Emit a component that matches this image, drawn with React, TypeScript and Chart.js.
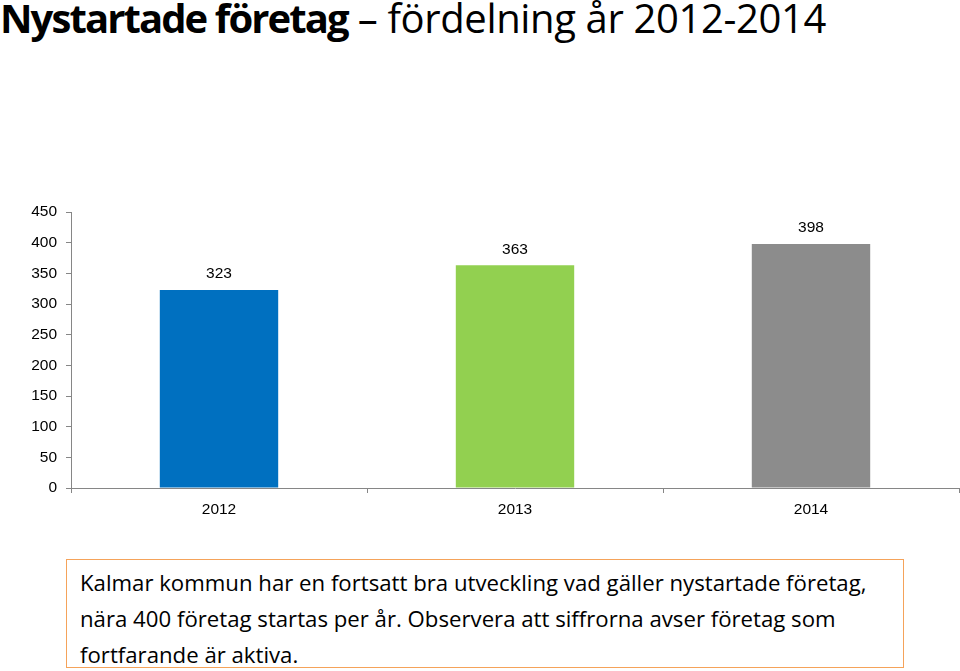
import React, { useEffect, useRef } from "react";
import { Chart, registerables } from "chart.js";

Chart.register(...registerables);

const categories = ["2012", "2013", "2014"];
const values = [323, 363, 398];
const barColors = ["#0070C0", "#92D050", "#8C8C8C"];
const yTicks = [0, 50, 100, 150, 200, 250, 300, 350, 400, 450];

const titleBold = "Nystartade företag";
const titleRest = " – fördelning år 2012-2014";
const noteLines = [
  "Kalmar kommun har en fortsatt bra utveckling vad gäller nystartade företag,",
  "nära 400 företag startas per år. Observera att siffrorna avser företag som",
  "fortfarande är aktiva.",
];

const FONT = "'Liberation Sans', Arial, sans-serif";

const valueLabelPlugin = {
  id: "valueLabels",
  afterDatasetsDraw(chart: any) {
    const ctx = chart.ctx;
    const meta = chart.getDatasetMeta(0);
    ctx.save();
    ctx.font = "15.5px " + FONT;
    ctx.fillStyle = "#000";
    ctx.textAlign = "center";
    ctx.textBaseline = "middle";
    meta.data.forEach((bar: any, i: number) => {
      ctx.fillText(String(values[i]), bar.x, bar.y - 16);
    });
    ctx.restore();
  },
};

export default function App() {
  const ref = useRef<HTMLCanvasElement | null>(null);

  useEffect(() => {
    document.body.style.margin = "0";
    const chart = new Chart(ref.current as HTMLCanvasElement, {
      type: "bar",
      data: {
        labels: categories,
        datasets: [
          {
            data: values,
            backgroundColor: barColors,
            borderWidth: 0,
            barPercentage: 0.8,
            categoryPercentage: 0.5,
          },
        ],
      },
      options: {
        animation: false,
        responsive: false,
        maintainAspectRatio: false,
        layout: { padding: { top: 22, right: 1, left: 0, bottom: 0 } },
        plugins: {
          legend: { display: false },
          tooltip: { enabled: false },
        },
        scales: {
          x: {
            grid: {
              offset: true,
              drawOnChartArea: false,
              drawTicks: true,
              tickLength: 5,
              color: "#868686",
            },
            border: { color: "#868686", width: 1 },
            ticks: {
              color: "#000",
              font: { family: FONT, size: 15.5 },
              padding: 7,
            },
            afterFit(scale: any) {
              scale.height = 42;
            },
          },
          y: {
            min: 0,
            max: 450,
            afterBuildTicks(scale: any) {
              scale.ticks = yTicks.map((v) => ({ value: v }));
            },
            grid: {
              drawOnChartArea: false,
              drawTicks: true,
              tickLength: 5,
              color: "#868686",
            },
            border: { color: "#868686", width: 1 },
            ticks: {
              color: "#000",
              font: { family: FONT, size: 15.5 },
              padding: 9,
            },
            afterFit(scale: any) {
              scale.width = 71;
            },
          },
        },
      },
      plugins: [valueLabelPlugin],
    });
    return () => chart.destroy();
  }, []);

  return (
    <div
      style={{
        position: "fixed",
        left: 0,
        top: 0,
        width: 960,
        height: 671,
        background: "#fff",
        overflow: "hidden",
      }}
    >
      <div
        style={{
          position: "absolute",
          left: 0,
          top: -10,
          whiteSpace: "nowrap",
          fontFamily: "'Open Sans', sans-serif",
          fontSize: 40,
          color: "#000",
        }}
      >
        <span style={{ fontWeight: 700, letterSpacing: -1.9 }}>{titleBold}</span>
        <span style={{ letterSpacing: -0.36 }}>{titleRest}</span>
      </div>
      <canvas
        ref={ref}
        width={960}
        height={340}
        style={{ position: "absolute", left: 0, top: 190, width: 960, height: 340 }}
      />
      <div
        style={{
          position: "absolute",
          left: 66,
          top: 559,
          width: 838,
          height: 109,
          border: "1.5px solid #F5A35A",
          boxSizing: "border-box",
        }}
      />
      <div
        style={{
          position: "absolute",
          left: 80,
          top: 565,
          fontFamily: "'Open Sans', sans-serif",
          fontSize: 22.2,
          lineHeight: "36px",
          color: "#000",
          whiteSpace: "nowrap",
        }}
      >
        {noteLines.map((l, i) => (
          <div key={i}>{l}</div>
        ))}
      </div>
    </div>
  );
}
